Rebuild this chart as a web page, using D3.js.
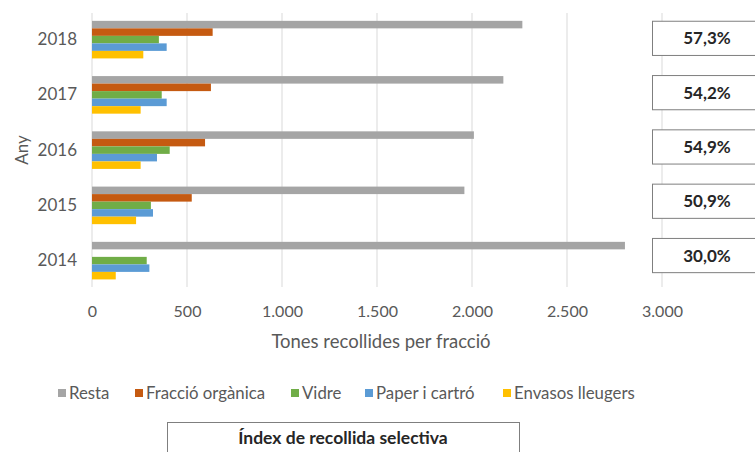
<!DOCTYPE html>
<html>
<head>
<meta charset="utf-8">
<script src="https://cdn.jsdelivr.net/npm/d3@7"></script>
<style>
  body { margin: 0; background: #fff; }
  text { font-family: Lato, "Open Sans", sans-serif; }
</style>
</head>
<body>
<div id="chart"></div>
<script>
// data
var years = ["2018", "2017", "2016", "2015", "2014"];
var series = ["Resta", "Fracció orgànica", "Vidre", "Paper i cartró", "Envasos lleugers"];
var resta = [2265, 2165, 2010, 1960, 2805];
var organica = [635, 626, 595, 525, 0];
var vidre = [352, 367, 409, 310, 288];
var paper = [393, 393, 342, 321, 302];
var envasos = [270, 256, 256, 232, 125];
var indexSelectiva = ["57,3%", "54,2%", "54,9%", "50,9%", "30,0%"];
var xTicks = [0, 500, 1000, 1500, 2000, 2500, 3000];

var colors = ["#a5a5a5", "#c55a11", "#70ad47", "#5b9bd5", "#ffc000"];
var width = 755;
var height = 452;

var values = [resta, organica, vidre, paper, envasos];

var svg = d3.select("#chart")
  .append("svg")
  .attr("width", width)
  .attr("height", height)

var x = d3.scaleLinear().domain([0, 3000]).range([92, 662])

var y = d3.scaleBand().domain(years).range([12, 288.25])
  .paddingInner(0.32).paddingOuter(0.16)

var ySeries = d3.scaleBand().domain(series).range([0, y.bandwidth()])

// gridlines
svg.append("g")
  .selectAll("line")
  .data(xTicks)
  .enter()
  .append("line")
  .attr("x1", function (d) { return x(d) })
  .attr("x2", function (d) { return x(d) })
  .attr("y1", 13)
  .attr("y2", 287)
  .attr("stroke", "#d9d9d9")
  .attr("stroke-width", 1)

// x axis labels
var xAxis = svg.append("g")
  .attr("transform", "translate(0,303)")
  .call(d3.axisBottom(x).tickValues(xTicks).tickSize(0)
    .tickFormat(function (d) { return d3.format(",")(d).replace(/,/g, ".") }))
xAxis.select(".domain").remove()
xAxis.selectAll("text")
  .attr("fill", "#595959")
  .style("font-size", "16px")
  .style("font-family", "Lato, sans-serif")

// y axis labels
var yAxis = svg.append("g")
  .attr("transform", "translate(80,0)")
  .call(d3.axisLeft(y).tickSize(0))
yAxis.select(".domain").remove()
yAxis.selectAll("text")
  .attr("fill", "#595959")
  .style("font-size", "17px")
  .style("font-family", "Lato, sans-serif")

// bars
var groups = svg.append("g")
  .selectAll("g")
  .data(years)
  .enter()
  .append("g")
  .attr("transform", function (d) { return "translate(0," + y(d) + ")" })

groups.selectAll("rect")
  .data(function (d, i) {
    return series.map(function (s, j) { return { s: s, v: values[j][i], c: colors[j] } })
  })
  .enter()
  .append("rect")
  .attr("x", x(0))
  .attr("y", function (d) { return ySeries(d.s) })
  .attr("height", ySeries.bandwidth())
  .attr("width", function (d) { return x(d.v) - x(0) })
  .attr("fill", function (d) { return d.c })

// axis titles
svg.append("text")
  .attr("x", 381)
  .attr("y", 348)
  .attr("text-anchor", "middle")
  .attr("fill", "#595959")
  .style("font-size", "18.5px")
  .text("Tones recollides per fracció")

svg.append("text")
  .attr("transform", "translate(28,150) rotate(-90)")
  .attr("text-anchor", "middle")
  .attr("fill", "#595959")
  .style("font-size", "17px")
  .text("Any")

// percentage boxes
var yBox = d3.scaleBand().domain(years).range([10.7, 282.2])
  .paddingInner(0.37).paddingOuter(0.185)

var boxes = svg.append("g")
  .selectAll("g")
  .data(years)
  .enter()
  .append("g")
  .attr("transform", function (d) { return "translate(652," + yBox(d) + ")" })

boxes.append("rect")
  .attr("x", 0.5)
  .attr("y", 0.5)
  .attr("width", 120)
  .attr("height", yBox.bandwidth())
  .attr("fill", "#fff")
  .attr("stroke", "#7f7f7f")
  .attr("stroke-width", 1)

boxes.append("text")
  .attr("x", 55)
  .attr("y", yBox.bandwidth() / 2 + 6.5)
  .attr("text-anchor", "middle")
  .attr("fill", "#262626")
  .style("font-size", "17px")
  .style("font-weight", "bold")
  .text(function (d, i) { return indexSelectiva[i] })

// legend
var legendX = [58, 135, 291, 365, 503];
var legend = svg.append("g")
  .selectAll("g")
  .data(series)
  .enter()
  .append("g")
  .attr("transform", function (d, i) { return "translate(" + legendX[i] + ",393)" })

legend.append("rect")
  .attr("x", 0)
  .attr("y", -4)
  .attr("width", 8)
  .attr("height", 8)
  .attr("fill", function (d, i) { return colors[i] })

legend.append("text")
  .attr("x", 11)
  .attr("y", 6)
  .attr("fill", "#595959")
  .style("font-size", "16.8px")
  .text(function (d) { return d })

// bottom box
svg.append("rect")
  .attr("x", 167.5)
  .attr("y", 422.5)
  .attr("width", 352)
  .attr("height", 40)
  .attr("fill", "#fff")
  .attr("stroke", "#7f7f7f")

svg.append("text")
  .attr("x", 343)
  .attr("y", 444)
  .attr("text-anchor", "middle")
  .attr("fill", "#262626")
  .style("font-size", "17.5px")
  .style("font-weight", "bold")
  .text("Índex de recollida selectiva")
</script>
</body>
</html>
